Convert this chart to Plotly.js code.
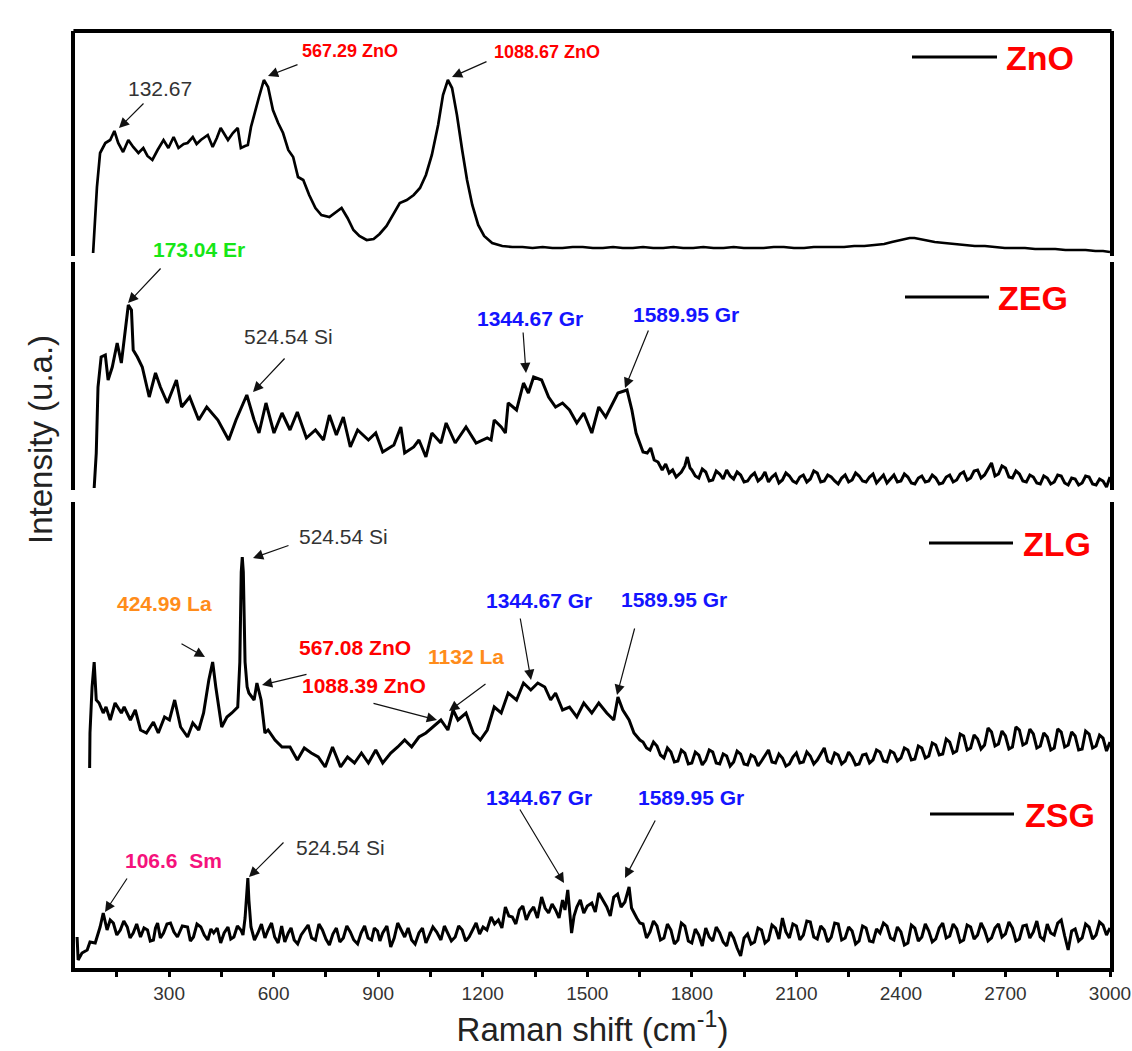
<!DOCTYPE html>
<html><head><meta charset="utf-8">
<script src="https://cdn.plot.ly/plotly-3.0.1.min.js"></script>
<style>html,body{margin:0;padding:0;background:#fff}#chart{width:1132px;height:1051px}</style>
</head><body><div id="chart"></div>
<script>
// ---------------- DATA (Raman shift in cm-1, intensity in arbitrary units per panel) ----------------
const ramanZnO = [
 82,88,93,102,117,131,143,154,168,183,
 197,212,226,238,252,267,284,298,313,327,
 342,353,368,379,391,411,425,437,448,469,
 483,497,506,518,526,535,549,558,572,584,
 598,613,627,642,656,670,685,702,720,737,
 760,777,795,812,829,846,867,887,904,924,
 945,962,982,1002,1020,1037,1054,1072,1086,1100,
 1112,1126,1141,1155,1170,1187,1204,1227,1256,1285,
 1314,1343,1372,1400,1429,1458,1487,1516,1545,1574,
 1602,1631,1660,1689,1718,1747,1775,1804,1833,1862,
 1891,1920,1949,1978,2006,2035,2064,2093,2122,2150,
 2179,2208,2237,2266,2295,2324,2352,2374,2396,2410,
 2425,2439,2453,2475,2497,2525,2554,2583,2612,2641,
 2670,2698,2727,2756,2785,2814,2843,2872,2901,2930,
 2958,2980,3000];
const intZnO = [
 3,36,69,103,113,116,125,113,104,116,
 109,103,108,100,96,106,116,108,119,108,
 112,113,119,112,116,121,109,118,128,116,
 123,128,108,110,111,129,149,159,176,169,
 146,133,123,106,99,79,76,61,48,41,
 39,43,48,38,26,20,16,17,22,30,
 42,53,56,61,68,81,101,131,161,176,
 168,141,106,76,51,31,20,13,10,9,
 9,8,9,8,8,9,9,8,8,9,
 8,8,9,8,8,9,8,8,9,8,
 8,9,8,8,8,9,9,8,8,9,
 9,9,9,10,10,11,12,14,16,17,
 18,18,17,15,14,13,12,11,10,10,
 9,8,8,8,7,7,7,6,6,6,
 5,5,4];

const ramanZEG = [
 85,91,96,105,117,125,137,151,163,177,
 183,192,197,209,223,243,261,275,295,321,
 336,359,385,408,440,471,492,523,544,558,
 578,601,624,647,668,694,720,743,760,780,
 800,820,841,872,893,913,945,965,976,1002,
 1017,1037,1054,1080,1095,1121,1152,1181,1213,1224,
 1233,1253,1265,1273,1297,1317,1331,1346,1369,1389,
 1409,1429,1449,1470,1490,1513,1533,1553,1573,1588,
 1614,1628,1640,1651,1660,1672,1682,1692,1703,1715,
 1725,1735,1745,1755,
 1760,1770,1780,1787,1795,1800,1810,1820,1830,1840,
 1850,1860,1870,1880,1890,1900,1910,1920,1930,1940,
 1950,1960,1970,1980,1990,2000,2010,2020,2030,2040,
 2050,2060,2070,2080,2090,2100,2110,2120,2130,2140,
 2150,2160,2170,2180,2190,2200,2210,2220,2230,2240,
 2250,2260,2270,2280,2290,2300,2310,2320,2330,2340,
 2350,2360,2370,2380,2390,2400,2410,2420,2430,2440,
 2450,2460,2470,2480,2490,2500,2510,2520,2530,2540,
 2550,2560,2570,2580,2590,2600,2610,2620,2630,2640,
 2650,2660,2670,2680,2690,2700,2710,2720,2730,2740,
 2750,2760,2770,2780,2790,2800,2810,2820,2830,2840,
 2850,2860,2870,2880,2890,2900,2910,2920,2930,2940,
 2950,2960,2970,2980,2990,3000];
const intZEG = [
 2,37,103,133,135,110,123,147,127,170,
 185,180,140,133,123,93,117,103,87,110,
 83,93,70,83,70,50,70,95,70,57,
 87,57,77,60,78,52,60,50,75,55,
 73,43,60,50,57,38,45,63,37,43,
 50,33,57,47,67,47,63,47,52,50,
 70,63,57,87,80,107,97,113,110,93,
 83,87,80,67,77,57,83,73,87,97,
 100,80,57,47,38,37,42,30,28,20,
 26,17,20,13,
 15,18,24,33,22,20,14,12,21,18,
 9,10,19,16,11,20,14,11,18,15,
 8,9,14,17,9,12,18,8,13,16,
 7,10,17,14,9,7,13,15,8,11,
 19,17,8,9,15,13,9,6,12,15,
 8,10,17,14,9,8,13,16,7,11,
 15,7,11,15,8,9,16,13,7,6,
 12,14,8,9,15,12,6,7,13,15,
 8,10,16,18,10,12,19,20,12,15,
 21,27,14,16,24,22,13,12,19,16,
 9,8,15,13,7,6,14,12,6,8,
 15,14,7,5,12,11,5,7,14,13,
 6,5,11,9,3,13];

const ramanZLG = [
 72,73,79,85,91,99,111,119,131,145,
 163,171,189,203,218,235,255,269,287,301,
 316,333,353,368,385,399,414,425,434,451,
 466,480,497,503,507,510,513,518,524,529,
 544,552,564,575,584,604,624,647,668,688,
 708,728,748,769,792,812,832,852,872,893,
 913,936,956,976,996,1017,1037,1057,1080,1100,
 1115,1129,1152,1173,1193,1213,1233,1253,1273,1297,
 1317,1338,1358,1378,1395,1409,1429,1449,1470,1490,
 1513,1533,1556,1576,1588,1602,1620,1634,1651,
 1660,1670,1680,1690,1700,1710,1720,1730,1740,1750,
 1760,1770,1780,1790,1800,1810,1820,1830,1840,1850,
 1860,1870,1880,1890,1900,1910,1920,1930,1940,1950,
 1960,1970,1980,1990,2000,2010,2020,2030,2040,2050,
 2060,2070,2080,2090,2100,2110,2120,2130,2140,2150,
 2160,2170,2180,2190,2200,2210,2220,2230,2240,2250,
 2260,2270,2280,2290,2300,2310,2320,2330,2340,2350,
 2360,2370,2380,2390,2400,2410,2420,2430,2440,2450,
 2460,2470,2480,2490,2500,2510,2520,2530,2540,2550,
 2560,2570,2580,2590,2600,2610,2620,2630,2640,2650,
 2660,2670,2680,2690,2700,2710,2720,2730,2740,2750,
 2760,2770,2780,2790,2800,2810,2820,2830,2840,2850,
 2860,2870,2880,2890,2900,2910,2920,2930,2940,2950,
 2960,2970,2980,2990,3000];
const intZLG = [
 4,39,85,110,72,69,59,65,52,69,
 59,65,52,62,42,39,50,39,55,52,
 72,45,35,49,42,59,92,110,85,45,
 55,59,65,110,200,215,200,110,85,79,
 72,89,72,39,42,32,25,25,12,24,
 19,15,5,25,5,15,9,19,9,22,
 9,19,25,32,25,35,39,45,52,42,
 62,52,59,39,32,42,65,59,79,72,
 89,82,89,85,72,79,62,65,55,69,
 59,69,59,52,75,62,52,39,32,
 30,24,22,30,26,17,14,24,20,10,
 11,22,19,8,9,20,17,7,12,22,
 20,9,8,18,16,6,10,21,18,8,
 7,17,15,6,11,16,22,10,9,18,
 14,6,8,15,19,9,10,20,16,8,
 12,18,24,11,9,19,17,8,11,20,
 15,7,8,17,18,9,12,22,20,11,
 10,21,19,11,14,24,22,12,13,26,
 24,14,16,29,27,17,18,33,30,19,
 21,38,36,22,24,37,33,23,27,44,
 40,26,28,41,36,23,25,45,42,27,
 29,43,38,24,26,39,35,22,24,43,
 40,25,27,40,36,22,23,41,38,24,
 26,37,34,21,30];

const ramanZSG = [
 36,39,50,65,73,88,102,111,122,131,
 140,150,160,170,180,188,197,207,218,228,
 238,246,255,261,267,275,284,294,304,314,
 324,338,353,361,370,380,391,401,411,420,
 428,438,448,458,469,477,486,496,506,512,
 518,523,526,529,
 535,545,555,565,575,584,594,603,613,623,
 632,642,650,659,669,679,689,699,709,720,
 730,740,750,760,770,780,790,800,810,820,
 830,841,851,861,871,881,889,898,905,913,
 925,936,946,956,966,976,986,996,1006,1017,
 1027,1037,1047,1057,1068,1080,1090,1100,1110,1121,
 1131,1141,1151,1161,1171,1181,1191,1201,1212,1224,
 1234,1245,1255,1265,1275,1285,1295,1305,1315,1325,
 1335,1346,1357,1369,1379,1389,1399,1409,1419,1429,
 1436,1444,1455,1462,1470,1480,1490,1500,1513,1523,
 1533,1545,1556,1566,1576,1587,1597,1608,1620,1627,
 1634,1642,1651,
 1660,1670,1680,1690,1700,1710,1720,1730,1740,1750,
 1760,1770,1780,1790,1800,1810,1820,1830,1840,1850,
 1860,1870,1880,1890,1900,1910,1920,1930,1940,1950,
 1960,1970,1980,1990,2000,2010,2020,2030,2040,2050,
 2060,2070,2080,2090,2100,2110,2120,2130,2140,2150,
 2160,2170,2180,2190,2200,2210,2220,2230,2240,2250,
 2260,2270,2280,2290,2300,2310,2320,2330,2340,2350,
 2360,2370,2380,2390,2400,2410,2420,2430,2440,2450,
 2460,2470,2480,2490,2500,2510,2520,2530,2540,2550,
 2560,2570,2580,2590,2600,2610,2620,2630,2640,2650,
 2660,2670,2680,2690,2700,2710,2720,2730,2740,2750,
 2760,2770,2780,2790,2800,2810,2820,2830,2840,2850,
 2860,2870,2880,2890,2900,2910,2920,2930,2940,2950,
 2960,2970,2980,2990,3000];
const intZSG = [
 31,8,15,18,26,25,41,55,38,48,
 45,33,38,47,41,30,35,44,31,40,
 38,27,28,40,45,30,35,44,45,36,
 31,42,41,27,31,44,41,33,28,39,
 35,40,25,35,41,29,31,42,38,33,
 50,75,90,68,
 41,28,35,44,30,38,45,31,25,42,
 26,35,40,28,24,33,38,43,30,28,
 44,38,29,23,34,40,26,30,42,36,
 28,24,35,42,30,28,40,37,27,35,
 42,21,30,45,38,31,40,28,24,35,
 40,25,33,41,36,28,42,35,27,31,
 42,38,27,31,38,45,34,41,38,51,
 44,48,40,61,52,51,44,58,62,48,
 56,61,50,71,60,55,64,58,50,68,
 58,78,35,52,61,68,55,62,65,56,
 75,68,61,52,71,74,61,66,81,60,
 55,50,45,
 44,30,36,47,42,28,30,44,38,24,
 28,45,42,27,25,39,33,22,40,31,
 27,41,35,26,22,36,30,20,12,30,
 34,24,26,40,38,25,28,43,40,29,
 50,36,30,44,42,28,33,47,46,31,
 29,42,38,26,31,45,44,28,30,41,
 37,24,27,42,40,27,26,39,35,45,
 42,30,28,41,36,23,25,43,40,27,
 31,44,37,26,29,40,45,30,32,44,
 39,26,28,43,41,29,33,45,38,27,
 30,40,44,31,34,46,40,27,29,42,
 43,30,36,47,31,28,44,35,33,45,
 48,32,18,37,39,27,30,44,41,29,
 33,46,43,33,40];

const xTickVals = [300,600,900,1200,1500,1800,2100,2400,2700,3000];
const sampleNames = ['ZnO','ZEG','ZLG','ZSG'];

// ---------------- LAYOUT HELPERS (pixel geometry of the figure) ----------------
const L=75, R=1110, T=31, B=968, W=R-L, H=B-T;
const px = x => (x-L)/W;
const py = y => (B-y)/H;
const FONT = 'Liberation Sans, Arial, Helvetica, sans-serif';

// panel pixel bounds [top, bottom]
const panels = [[31,256],[262,490],[502,772],[772,968]];

const seriesX = [ramanZnO, ramanZEG, ramanZLG, ramanZSG];
const seriesY = [intZnO, intZEG, intZLG, intZSG];
const yNames = ['y','y2','y3','y4'];

const traces = seriesX.map((xs,i)=>({
  type:'scatter', mode:'lines', x:xs, y:seriesY[i], yaxis:yNames[i], xaxis:'x',
  name:sampleNames[i], showlegend:false,
  line:{color:'#000', width: i===0 ? 2.7 : 3, shape:'linear'}
}));

const layout = {
  width:1132, height:1051,
  margin:{l:L, r:1132-R, t:T, b:1051-B},
  paper_bgcolor:'#fff', plot_bgcolor:'#fff',
  showlegend:false,
  xaxis:{
    anchor:'y4', range:[30,3000], tickvals:xTickVals, ticktext:xTickVals.map(String),
    ticks:'outside', ticklen:5, tickwidth:3, tickcolor:'#000',
    minor:{tickvals:[150,450,750,1050,1350,1650,1950,2250,2550,2850], ticks:'outside', ticklen:5, tickwidth:3, tickcolor:'#000'},
    showline:true, linewidth:4, linecolor:'#000', showgrid:false, zeroline:false,
    tickfont:{family:FONT, size:19, color:'#333'},
    title:{text:'Raman shift (cm<sup>-1</sup>)', font:{family:FONT, size:33, color:'#222'}, standoff:16}
  },
  annotations:[], shapes:[]
};

panels.forEach((p,i)=>{
  const key = i===0 ? 'yaxis' : 'yaxis'+(i+1);
  layout[key] = {
    domain:[py(p[1]), py(p[0])], range:[0, p[1]-p[0]], anchor:'x',
    showline:true, mirror:true, linewidth:4, linecolor:'#000',
    showticklabels:false, ticks:'', showgrid:false, zeroline:false
  };
});

// top frame line
layout.shapes.push({type:'line', xref:'paper', yref:'paper', x0:-0.0015, x1:1.0015, y0:1, y1:1, line:{color:'#000', width:4}});

// legend entries: [line x0, line x1, y, text left]
const legendPos = [[912,997,57,1004],[905,989,297,996],[929,1013,543,1021],[930,1014,814,1023]];
legendPos.forEach((g,i)=>{
  layout.shapes.push({type:'line', xref:'paper', yref:'paper', x0:px(g[0]), x1:px(g[1]), y0:py(g[2]), y1:py(g[2]), line:{color:'#000', width:3}});
  layout.annotations.push({xref:'paper', yref:'paper', x:px(g[3]), y:py(g[2]+1), xanchor:'left', yanchor:'middle',
    text:'<b>'+sampleNames[i]+'</b>', showarrow:false, font:{family:FONT, size:34, color:'#ff0000'}});
});

// peak labels: [text, color, bold, size, centerX, centerY]
const RED='#ff0000', GRN='#17e617', BLU='#1414ff', ORG='#ff8c1a', MAG='#f5127c', GRY='#333333';
const peakLabels = [
  ['132.67', GRY, false, 21, 160, 88],
  ['567.29 ZnO', RED, true, 18, 350, 51],
  ['1088.67 ZnO', RED, true, 18, 547, 52],
  ['173.04 Er', GRN, true, 21, 199, 249],
  ['524.54 Si', GRY, false, 21, 288, 336],
  ['1344.67 Gr', BLU, true, 21, 530, 318],
  ['1589.95 Gr', BLU, true, 21, 686, 315],
  ['524.54 Si', GRY, false, 21, 343, 536],
  ['424.99 La', ORG, true, 21, 164, 604],
  ['567.08 ZnO', RED, true, 21, 355, 647],
  ['1132 La', ORG, true, 21, 466, 656],
  ['1088.39 ZnO', RED, true, 21, 364, 685],
  ['1344.67 Gr', BLU, true, 21, 539, 600],
  ['1589.95 Gr', BLU, true, 21, 674, 599],
  ['106.6  Sm', MAG, true, 21, 173, 860],
  ['524.54 Si', GRY, false, 21, 340, 847],
  ['1344.67 Gr', BLU, true, 21, 539, 797],
  ['1589.95 Gr', BLU, true, 21, 691, 797]
];
peakLabels.forEach(l=>{
  layout.annotations.push({xref:'paper', yref:'paper', x:px(l[4]), y:py(l[5]), xanchor:'center', yanchor:'middle',
    text: l[2] ? '<b>'+l[0]+'</b>' : l[0], showarrow:false, font:{family:FONT, size:l[3], color:l[1]}});
});

// arrows: [tailX, tailY, tipX, tipY]
const arrows = [
  [145,102,119,128],[299,64,268,76],[488,61,452,77],
  [162,267,128,303],[286,357,253,392],[523,331,526,373],[649,329,625,388],
  [290,545,253,558],[180,643,205,657],[308,674,262,685],[487,683,449,711],[372,703,437,720],[520,617,531,680],[635,627,617,695],
  [128,877,105,912],[285,841,249,877],[519,808,564,883],[656,819,625,878]
];
arrows.forEach(a=>{
  layout.annotations.push({xref:'paper', yref:'paper', x:px(a[2]), y:py(a[3]), ax:a[0]-a[2], ay:a[1]-a[3],
    text:'', showarrow:true, arrowhead:2, arrowsize:1.7, arrowwidth:1.2, arrowcolor:'#111', standoff:0, startstandoff:0});
});

// y title
layout.annotations.push({xref:'paper', yref:'paper', x:px(40), y:py(440), xanchor:'center', yanchor:'middle',
  text:'Intensity (u.a.)', textangle:-90, showarrow:false, font:{family:FONT, size:33, color:'#222'}});

Plotly.newPlot('chart', traces, layout, {staticPlot:true, displayModeBar:false});
</script>
</body></html>
